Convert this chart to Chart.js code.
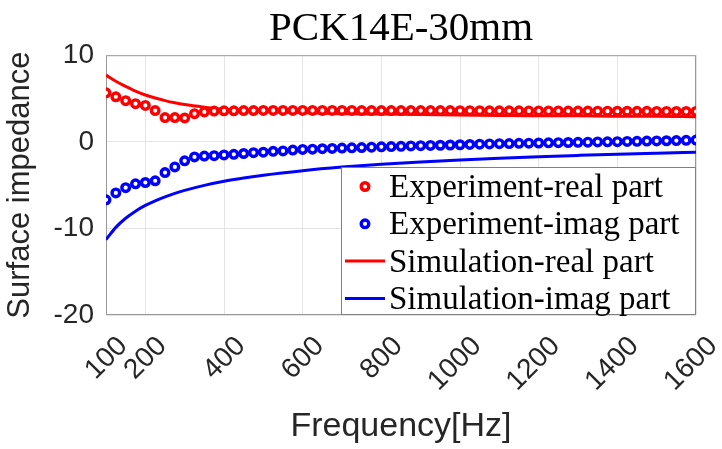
<!DOCTYPE html>
<html>
<head>
<meta charset="utf-8">
<script src="https://cdn.jsdelivr.net/npm/chart.js@4.4.1/dist/chart.umd.min.js"></script>
<style>
  body { margin: 0; background: #fff; }
  #wrap { width: 722px; height: 449px; }
</style>
</head>
<body>
<div id="wrap"><canvas id="myChart" width="722" height="449"></canvas></div>
<script>
// measured frequencies (Hz)
const expFreq = [100, 125, 150, 175, 200, 225, 250, 275, 300, 325, 350, 375, 400, 425, 450, 475,
  500, 525, 550, 575, 600, 625, 650, 675, 700, 725, 750, 775, 800, 825, 850, 875, 900, 925, 950, 975,
  1000, 1025, 1050, 1075, 1100, 1125, 1150, 1175, 1200, 1225, 1250, 1275, 1300, 1325, 1350, 1375,
  1400, 1425, 1450, 1475, 1500, 1525, 1550, 1575, 1600];
const expReal = [5.65, 5.2, 4.75, 4.4, 4.2, 3.6, 2.8, 2.8, 2.75, 3.25, 3.45, 3.55, 3.58, 3.58, 3.6, 3.6,
  3.62, 3.62, 3.62, 3.62, 3.62, 3.62, 3.62, 3.62, 3.62, 3.62, 3.61, 3.61, 3.61, 3.6, 3.6, 3.6, 3.6, 3.6, 3.6, 3.6,
  3.59, 3.59, 3.59, 3.58, 3.58, 3.58, 3.58, 3.57, 3.57, 3.56, 3.56, 3.55, 3.55, 3.55, 3.54, 3.54,
  3.53, 3.53, 3.52, 3.52, 3.51, 3.51, 3.5, 3.5, 3.5];
const expImag = [-6.7, -5.9, -5.3, -4.85, -4.7, -4.5, -3.55, -2.9, -2.2, -1.75, -1.65, -1.6, -1.52, -1.45, -1.35, -1.25,
  -1.2, -1.1, -1.05, -0.95, -0.88, -0.85, -0.8, -0.77, -0.73, -0.7, -0.66, -0.62, -0.58, -0.55, -0.52, -0.48, -0.45, -0.42, -0.4, -0.37,
  -0.34, -0.31, -0.28, -0.25, -0.22, -0.2, -0.18, -0.16, -0.14, -0.12, -0.1, -0.08, -0.06, -0.04, -0.02, 0.0,
  0.02, 0.04, 0.06, 0.08, 0.1, 0.12, 0.14, 0.17, 0.2];

// simulation curve
const simFreq = [100, 125, 150, 175, 200, 225, 250, 275, 300, 350, 400, 450, 500, 600, 700, 800,
  900, 1000, 1100, 1200, 1300, 1400, 1500, 1600];
const simReal = [7.7, 7.0, 6.4, 5.85, 5.4, 5.05, 4.75, 4.5, 4.3, 4.0, 3.75, 3.6, 3.5, 3.35, 3.25, 3.2,
  3.15, 3.1, 3.05, 3.0, 3.0, 2.95, 2.95, 2.9];
const simImag = [-11.3, -9.88, -8.83, -8.01, -7.35, -6.81, -6.35, -5.95, -5.61, -5.03, -4.56, -4.18, -3.85, -3.33, -2.92, -2.59,
  -2.32, -2.09, -1.89, -1.72, -1.57, -1.43, -1.31, -1.2];

const xTicks = [100, 200, 400, 600, 800, 1000, 1200, 1400, 1600];
const yTicks = [-20, -10, 0, 10];
const seriesLabels = ['Experiment-real part', 'Experiment-imag part', 'Simulation-real part', 'Simulation-imag part'];

const RED = '#ff0000';
const BLUE = '#0000ff';

function toXY(xs, ys) {
  return xs.map((x, i) => ({ x: x, y: ys[i] }));
}

// plot box (matlab "box on") and the legend inside the axes
const boxAndLegend = {
  id: 'boxAndLegend',
  beforeDatasetsDraw(chart) {
    const { ctx, chartArea: a } = chart;
    ctx.save();
    ctx.strokeStyle = '#999999';
    ctx.lineWidth = 1;
    ctx.strokeRect(a.left + 0.5, a.top + 0.5, a.right - a.left - 1, a.bottom - a.top - 1);
    ctx.restore();
  },
  afterDatasetsDraw(chart) {
    const { ctx, chartArea: a } = chart;
    const w = 355, h = 148;
    const x0 = a.right - w, y0 = a.bottom - h;
    ctx.save();
    ctx.fillStyle = '#fff';
    ctx.fillRect(x0, y0, w, h);
    ctx.strokeStyle = '#808080';
    ctx.lineWidth = 1;
    ctx.strokeRect(x0 + 0.5, y0 + 0.5, w - 1, h - 1);

    ctx.font = '33px "Liberation Serif"';
    ctx.textBaseline = 'middle';
    chart.data.datasets.forEach((ds, i) => {
      const cy = y0 + 19.5 + i * 37.3;
      if (ds.showLine === false) {
        ctx.beginPath();
        ctx.arc(x0 + 24, cy, ds.pointRadius, 0, Math.PI * 2);
        ctx.fillStyle = '#fff';
        ctx.fill();
        ctx.lineWidth = ds.pointBorderWidth;
        ctx.strokeStyle = ds.borderColor;
        ctx.stroke();
      } else {
        ctx.beginPath();
        ctx.moveTo(x0 + 4, cy);
        ctx.lineTo(x0 + 44, cy);
        ctx.lineWidth = ds.borderWidth;
        ctx.strokeStyle = ds.borderColor;
        ctx.stroke();
      }
      ctx.fillStyle = '#000';
      ctx.fillText(ds.label, x0 + 48, cy + 2);
    });
    ctx.restore();
  }
};

const ctx = document.getElementById('myChart').getContext('2d');
new Chart(ctx, {
  type: 'line',
  data: {
    datasets: [
      {
        label: seriesLabels[0],
        data: toXY(expFreq, expReal),
        showLine: false,
        borderColor: RED,
        backgroundColor: '#fff',
        pointRadius: 3.8,
        pointBorderWidth: 3.4,
        order: 0
      },
      {
        label: seriesLabels[1],
        data: toXY(expFreq, expImag),
        showLine: false,
        borderColor: BLUE,
        backgroundColor: '#fff',
        pointRadius: 3.8,
        pointBorderWidth: 3.4,
        order: 0
      },
      {
        label: seriesLabels[2],
        data: toXY(simFreq, simReal),
        borderColor: RED,
        borderWidth: 3,
        pointRadius: 0,
        cubicInterpolationMode: 'monotone',
        fill: false,
        order: 1
      },
      {
        label: seriesLabels[3],
        data: toXY(simFreq, simImag),
        borderColor: BLUE,
        borderWidth: 3,
        pointRadius: 0,
        cubicInterpolationMode: 'monotone',
        fill: false,
        order: 1
      }
    ]
  },
  options: {
    responsive: false,
    animation: false,
    devicePixelRatio: 1,
    layout: { padding: { left: 0, right: 26, top: 0, bottom: 0 } },
    plugins: {
      legend: { display: false },
      tooltip: { enabled: false },
      title: {
        display: true,
        fullSize: false,
        text: 'PCK14E-30mm',
        color: '#000',
        font: { family: 'Liberation Serif', size: 41, weight: 'normal' },
        padding: { top: 5, bottom: 1 }
      }
    },
    scales: {
      x: {
        type: 'linear',
        min: 100,
        max: 1600,
        afterBuildTicks: (scale) => { scale.ticks = xTicks.map(v => ({ value: v })); },
        afterFit: (scale) => {
          scale.height = 134;
          scale.paddingLeft = 0;
          scale.paddingRight = 0;
        },
        grid: { color: '#e4e4e4', drawTicks: false },
        border: { display: false },
        ticks: {
          autoSkip: false,
          minRotation: 45,
          maxRotation: 45,
          padding: 15,
          labelOffset: 17,
          color: '#262626',
          font: { family: 'Liberation Sans', size: 28 },
          callback: (v) => String(v)
        },
        title: {
          display: true,
          text: 'Frequency[Hz]',
          color: '#262626',
          font: { family: 'Liberation Sans', size: 34 },
          padding: { top: 2, bottom: 2 }
        }
      },
      y: {
        min: -20,
        max: 10,
        afterBuildTicks: (scale) => { scale.ticks = yTicks.map(v => ({ value: v })); },
        afterFit: (scale) => { scale.width = 106; },
        grid: { color: '#e4e4e4', drawTicks: false },
        border: { display: false },
        ticks: {
          padding: 12,
          color: '#262626',
          font: { family: 'Liberation Sans', size: 28 }
        },
        title: {
          display: true,
          text: 'Surface impedance',
          color: '#262626',
          font: { family: 'Liberation Sans', size: 31 },
          padding: { top: 2, bottom: 2 }
        }
      }
    }
  },
  plugins: [boxAndLegend]
});
</script>
</body>
</html>
